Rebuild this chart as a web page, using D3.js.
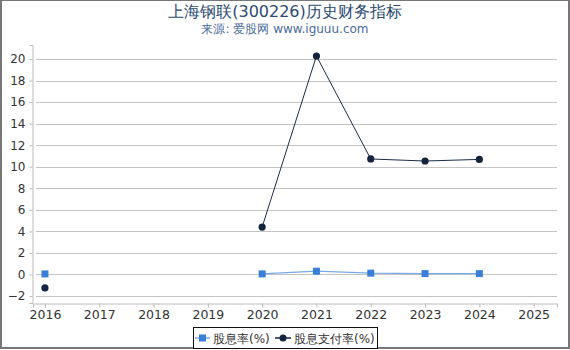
<!DOCTYPE html>
<html><head><meta charset="utf-8">
<script src="https://cdn.jsdelivr.net/npm/d3@7"></script>
<style>body{margin:0;background:#fff}svg{display:block;font-family:"DejaVu Sans",sans-serif}</style>
</head><body><svg id="c" width="570" height="350"></svg>
<script>
const years = [2016,2017,2018,2019,2020,2021,2022,2023,2024,2025];
const yieldVals = [0.05,null,null,null,0.05,0.3,0.12,0.08,0.08,null];
const payoutVals = [-1.25,null,null,null,4.4,20.28,10.72,10.53,10.68,null];
const yTicks = [-2,0,2,4,6,8,10,12,14,16,18,20];
const seriesNames = ["股息率(%)","股息支付率(%)"];
const colors = ["#3a80d8","#14243e"];

const svg = d3.select("#c");
svg.append("rect").attr("x",1).attr("y",0).attr("width",568).attr("height",348)
  .attr("fill","none").attr("stroke","#777").attr("stroke-width",2);

svg.append("text").attr("x",285).attr("y",17).attr("text-anchor","middle")
  .attr("font-size",16).attr("fill","#2b4a72").text("上海钢联(300226)历史财务指标");
svg.append("text").attr("x",285).attr("y",33).attr("text-anchor","middle")
  .attr("font-size",12).attr("fill","#4a6b9a").text("来源: 爱股网 www.iguuu.com");

const x = d3.scaleLinear().domain([2015.78,2025.43]).range([33,557]);
const y = d3.scaleLinear().domain([-2.65,21.3]).range([303,45]);

// grid
svg.append("g").selectAll("line").data(yTicks).join("line")
  .attr("x1",36).attr("x2",557).attr("y1",d=>Math.round(y(d))+0.5).attr("y2",d=>Math.round(y(d))+0.5)
  .attr("stroke","#c4c4c4").attr("stroke-width",1);

const yAxis = svg.append("g").attr("transform","translate(32.5,0)")
  .call(d3.axisLeft(y).tickValues(yTicks).tickSize(3).tickPadding(4).tickFormat(d3.format("d")));
const xAxis = svg.append("g").attr("transform","translate(0,303.5)")
  .call(d3.axisBottom(x).tickValues(years).tickSize(4).tickPadding(3).tickFormat(d3.format("d")));
[yAxis,xAxis].forEach(a=>{
  a.select(".domain").attr("stroke","#bbb");
  a.selectAll(".tick line").attr("stroke","#bbb");
  a.selectAll("text").attr("fill","#333").attr("font-size",12).attr("font-family","DejaVu Sans, sans-serif");
});
xAxis.selectAll("text").attr("font-size",12.5);

const line = d3.line().defined(d=>d.v!==null).x(d=>x(d.yr)).y(d=>y(d.v));
const yd = years.map((yr,i)=>({yr,v:yieldVals[i]}));
const pd = years.map((yr,i)=>({yr,v:payoutVals[i]}));

svg.append("path").datum(yd).attr("d",line).attr("fill","none").attr("stroke","#7aaae6").attr("stroke-width",1.2);
svg.append("path").datum(pd).attr("d",line).attr("fill","none").attr("stroke","#1c2c48").attr("stroke-width",1);

svg.append("g").selectAll("rect").data(yd.filter(d=>d.v!==null)).join("rect")
  .attr("x",d=>x(d.yr)-3.5).attr("y",d=>y(d.v)-3.5).attr("width",7).attr("height",7).attr("fill",colors[0]);
svg.append("g").selectAll("circle").data(pd.filter(d=>d.v!==null)).join("circle")
  .attr("cx",d=>x(d.yr)).attr("cy",d=>y(d.v)).attr("r",3.6).attr("fill",colors[1]);

// legend
const lg = svg.append("g");
lg.append("rect").attr("x",193.5).attr("y",327.5).attr("width",184).attr("height",21)
  .attr("fill","#fff").attr("stroke","#111").attr("stroke-width",1);
lg.append("line").attr("x1",195).attr("x2",210).attr("y1",338).attr("y2",338).attr("stroke","#7aaae6").attr("stroke-width",1.5);
lg.append("rect").attr("x",199).attr("y",334.5).attr("width",7).attr("height",7).attr("fill",colors[0]);
lg.append("text").attr("x",213).attr("y",342.5).attr("font-size",12).attr("fill","#333").text(seriesNames[0]);
lg.append("line").attr("x1",275).attr("x2",291).attr("y1",338).attr("y2",338).attr("stroke",colors[1]).attr("stroke-width",1.5);
lg.append("circle").attr("cx",283).attr("cy",338).attr("r",3.5).attr("fill",colors[1]);
lg.append("text").attr("x",294).attr("y",342.5).attr("font-size",12).attr("fill","#333").text(seriesNames[1]);
</script></body></html>
